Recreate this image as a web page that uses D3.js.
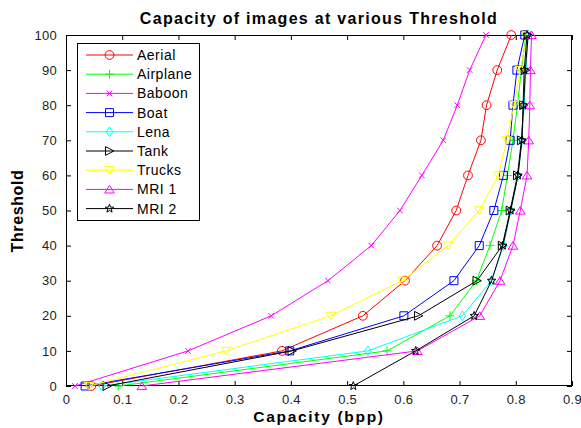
<!DOCTYPE html>
<html><head><meta charset="utf-8">
<script src="https://cdn.jsdelivr.net/npm/d3@7"></script>
<style>body{margin:0;background:#fff;} svg{display:block;font-family:"Liberation Sans",Arial,sans-serif;}</style>
</head><body>
<svg id="c" width="581" height="428"></svg>
<script>
const thresholds = [0,10,20,30,40,50,60,70,80,90,100];
const seriesNames = ["Aerial","Airplane","Baboon","Boat","Lena","Tank","Trucks","MRI 1","MRI 2"];
const aerial   = [0.045,0.384,0.528,0.603,0.660,0.694,0.715,0.738,0.748,0.767,0.792];
const airplane = [0.093,0.571,0.683,0.730,0.754,0.775,0.785,0.795,0.803,0.810,0.818];
const baboon   = [0.016,0.217,0.365,0.466,0.543,0.594,0.633,0.671,0.696,0.718,0.747];
const boat     = [0.034,0.398,0.601,0.690,0.735,0.761,0.778,0.790,0.795,0.802,0.816];
const lena     = [0.064,0.537,0.705,0.757,0.778,0.791,0.804,0.811,0.815,0.818,0.822];
const tank     = [0.073,0.402,0.627,0.731,0.776,0.790,0.803,0.810,0.814,0.817,0.822];
const trucks   = [0.041,0.285,0.471,0.598,0.680,0.735,0.769,0.784,0.797,0.808,0.820];
const mri1     = [0.135,0.625,0.736,0.772,0.795,0.808,0.820,0.823,0.825,0.826,0.828];
const mri2     = [0.511,0.622,0.726,0.757,0.777,0.791,0.804,0.811,0.813,0.815,0.820];
const xTicks = [0,0.1,0.2,0.3,0.4,0.5,0.6,0.7,0.8,0.9];
const yTicks = [0,10,20,30,40,50,60,70,80,90,100];

const seriesValues = [aerial,airplane,baboon,boat,lena,tank,trucks,mri1,mri2];
const colors = ["#ff0000","#00ff00","#ff00ff","#0000ff","#00ffff","#000000","#ffff00","#ff00ff","#000000"];
const markers = ["circle","plus","x","square","diamond","triR","triD","triU","star"];

const svg = d3.select("#c");
const L=66,R=572,T=35,B=386;
const x = d3.scaleLinear().domain([0,0.9]).range([L,R]);
const y = d3.scaleLinear().domain([0,100]).range([B,T]);

const clipId="clp";
svg.append("defs").append("clipPath").attr("id",clipId).append("rect")
  .attr("x",L-6).attr("y",T-6).attr("width",R-L+12).attr("height",B-T+12);

const fmt = d=> d===0?"0":d3.format(".1f")(d);
svg.append("g").attr("transform",`translate(0,${B})`)
  .call(d3.axisBottom(x).tickValues(xTicks).tickFormat(fmt).tickSizeInner(-5).tickSizeOuter(0).tickPadding(9));
svg.append("g").attr("transform",`translate(0,${T})`)
  .call(d3.axisTop(x).tickValues(xTicks).tickFormat("").tickSizeInner(-5).tickSizeOuter(0));
svg.append("g").attr("transform",`translate(${L},0)`)
  .call(d3.axisLeft(y).tickValues(yTicks).tickSizeInner(-5).tickSizeOuter(0).tickPadding(9));
svg.append("g").attr("transform",`translate(${R},0)`)
  .call(d3.axisRight(y).tickValues(yTicks).tickFormat("").tickSizeInner(-5).tickSizeOuter(0));
svg.selectAll(".domain").remove();
svg.selectAll(".tick line").attr("stroke","#000");
svg.selectAll(".tick text").attr("font-size",13).attr("fill","#222").attr("letter-spacing",0.3)
  .attr("font-family","Liberation Sans, Arial, sans-serif");
svg.append("rect").attr("x",L+0.5).attr("y",T+0.5).attr("width",R-L-1).attr("height",B-T-1)
  .attr("fill","none").attr("stroke","#000").attr("stroke-width",1);

function markerPath(type, s){
  const p=d3.path();
  switch(type){
    case "circle": p.arc(0,0,s*0.55,0,2*Math.PI); break;
    case "plus": p.moveTo(-s*0.55,0);p.lineTo(s*0.55,0);p.moveTo(0,-s*0.55);p.lineTo(0,s*0.55); break;
    case "x": p.moveTo(-s*0.35,-s*0.35);p.lineTo(s*0.35,s*0.35);p.moveTo(-s*0.35,s*0.35);p.lineTo(s*0.35,-s*0.35); break;
    case "square": p.rect(-s*0.5,-s*0.5,s,s); break;
    case "diamond": p.moveTo(0,-s*0.6);p.lineTo(s*0.42,0);p.lineTo(0,s*0.6);p.lineTo(-s*0.42,0);p.closePath(); break;
    case "triR": p.moveTo(s*0.55,0);p.lineTo(-s*0.5,-s*0.55);p.lineTo(-s*0.5,s*0.55);p.closePath(); break;
    case "triD": p.moveTo(0,s*0.5);p.lineTo(-s*0.6,-s*0.45);p.lineTo(s*0.6,-s*0.45);p.closePath(); break;
    case "triU": p.moveTo(0,-s*0.5);p.lineTo(-s*0.6,s*0.45);p.lineTo(s*0.6,s*0.45);p.closePath(); break;
    case "star": {
      const ro=s*0.55, ri=ro*0.42;
      for(let i=0;i<10;i++){const r=i%2?ri:ro;const a=-Math.PI/2+i*Math.PI/5;
        const px=r*Math.cos(a),py=r*Math.sin(a); i?p.lineTo(px,py):p.moveTo(px,py);} p.closePath(); break;}
  }
  return p.toString();
}
const MS=8;
const plot = svg.append("g").attr("clip-path",`url(#${clipId})`);
const line = d3.line().x(d=>x(d[0])).y(d=>y(d[1]));
seriesValues.forEach((vals,i)=>{
  const pts = vals.map((v,j)=>[v,thresholds[j]]);
  const g = plot.append("g");
  g.append("path").attr("d",line(pts)).attr("fill","none").attr("stroke",colors[i]).attr("stroke-width",1);
  g.selectAll("path.m").data(pts).enter().append("path").attr("class","m")
    .attr("transform",d=>`translate(${x(d[0])},${y(d[1])})`)
    .attr("d",markerPath(markers[i],MS)).attr("fill","none").attr("stroke",colors[i]).attr("stroke-width",1);
});

const lg = svg.append("g");
lg.append("rect").attr("x",77.5).attr("y",43.5).attr("width",122).attr("height",177)
  .attr("fill","#fff").attr("stroke","#000");
seriesNames.forEach((n,i)=>{
  const yy=55+i*19.2;
  lg.append("line").attr("x1",86).attr("x2",133).attr("y1",yy).attr("y2",yy).attr("stroke",colors[i]);
  lg.append("path").attr("transform",`translate(109.5,${yy})`).attr("d",markerPath(markers[i],MS))
    .attr("fill","none").attr("stroke",colors[i]);
  lg.append("text").attr("x",137).attr("y",yy+5).attr("font-size",14).attr("letter-spacing",0.5)
    .attr("fill","#000").text(n);
});

svg.append("text").attr("x",319).attr("y",24).attr("text-anchor","middle").attr("font-size",16)
  .attr("letter-spacing",1.3).attr("font-weight","bold").text("Capacity of images at various Threshold");
svg.append("text").attr("x",319).attr("y",422).attr("text-anchor","middle").attr("font-size",15.5)
  .attr("letter-spacing",1.7).attr("font-weight","bold").text("Capacity (bpp)");
svg.append("text").attr("transform","translate(23,211) rotate(-90)").attr("text-anchor","middle").attr("font-size",16)
  .attr("letter-spacing",0.6).attr("font-weight","bold").text("Threshold");
</script>
</body></html>
